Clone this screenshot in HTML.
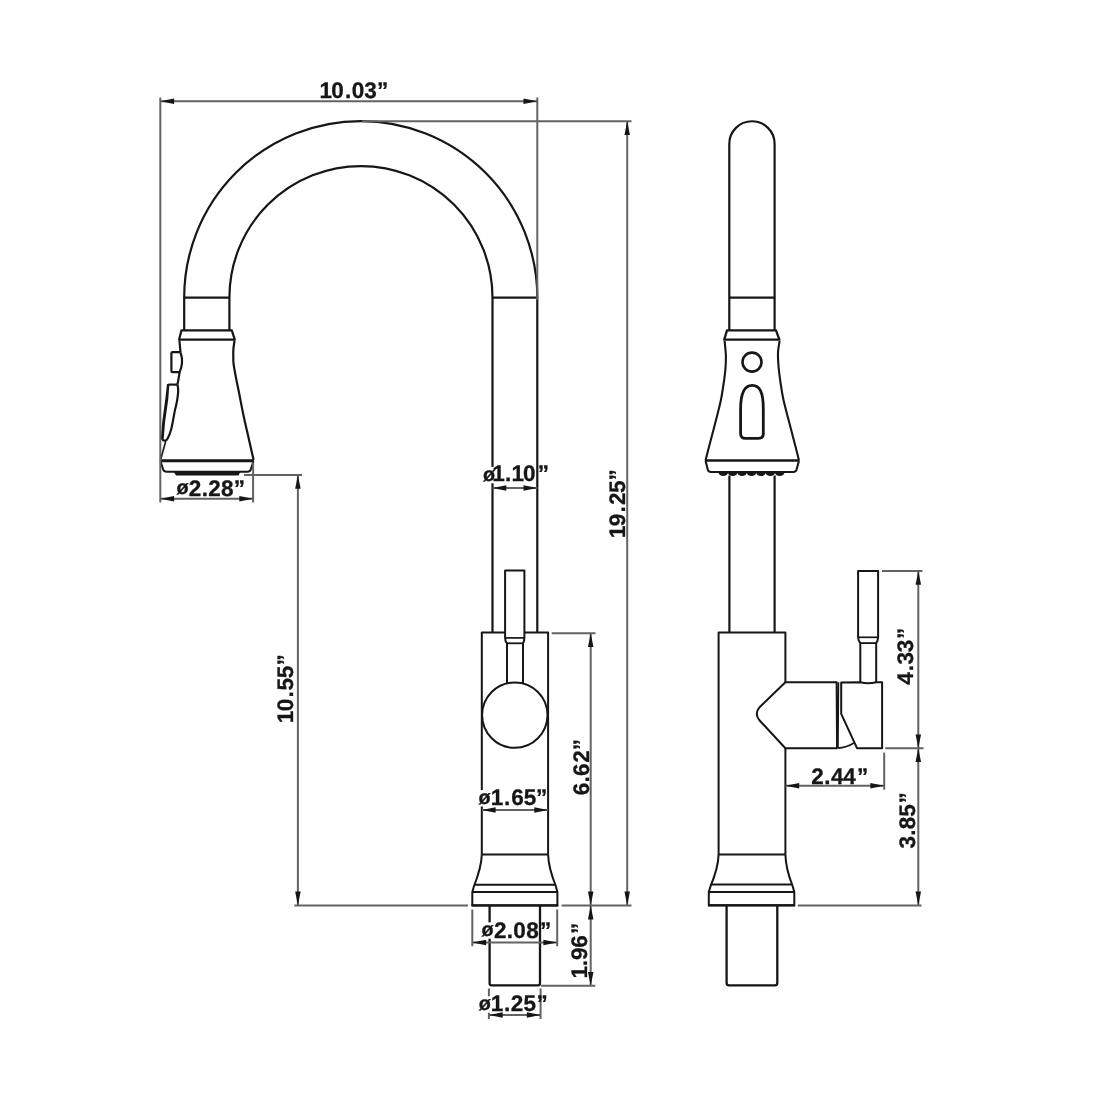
<!DOCTYPE html>
<html lang="en">
<head>
<meta charset="utf-8">
<title>Faucet dimensions</title>
<style>
html,body{margin:0;padding:0;background:#fff;}
body{width:1096px;height:1096px;overflow:hidden;}
svg{display:block;will-change:transform;}
svg path,svg line,svg circle{fill:none;stroke:#161616;stroke-linecap:butt;stroke-linejoin:round;}
svg polygon,svg path.k{fill:#161616;stroke:none;}
svg text{font-family:"Liberation Sans",sans-serif;font-weight:700;font-size:22.5px;fill:#161616;stroke:#161616;stroke-width:0.3px;stroke-linejoin:round;text-rendering:geometricPrecision;}
svg line.d{stroke:#636363;stroke-width:2.0px;}
svg .w{fill:#fff;}
svg rect.bg{fill:#fff;stroke:none;}
</style>
</head>
<body>
<svg width="1096" height="1096" viewBox="0 0 1096 1096">
<rect x="0" y="0" width="1096" height="1096" fill="#ffffff"/>
<path d="M184.2 330 L184.2 297.6 A176.55 176.55 0 0 1 537.3 297.6 L537.3 632.5" stroke-width="2.2" fill="none" />
<path d="M229.4 330 L229.4 297.6 A131.55 131.55 0 0 1 492.5 297.6 L492.5 632.5" stroke-width="2.2" fill="none" />
<line x1="184.2" y1="297.6" x2="229.4" y2="297.6" stroke-width="2.2"/>
<line x1="492.5" y1="297.6" x2="537.3" y2="297.6" stroke-width="2.2"/>
<path d="M181.5 330.3 L231.8 330.3 L234.8 339.6 L179.1 339.6 Z" stroke-width="2.2" fill="none" />
<path d="M234.60 340.30 C234.40 341.75 233.62 346.22 233.40 349.00 C233.18 351.78 233.27 354.50 233.30 357.00 C233.33 359.50 233.13 360.43 233.60 364.00 C234.07 367.57 235.18 373.57 236.10 378.40 C237.02 383.23 237.88 386.92 239.10 393.00 C240.32 399.08 241.75 407.12 243.40 414.90 C245.05 422.68 247.30 432.18 249.00 439.70 C250.70 447.22 252.83 456.62 253.60 460.00" stroke-width="2.2" fill="none" />
<path d="M179.4 340.3 L180.5 352" stroke-width="2.2" fill="none" />
<path d="M180.3 352.2 L172.6 352.2 Q171.4 352.2 171.4 353.4 L171.4 371 Q171.4 372.2 172.6 372.2 L179.6 372.2" stroke-width="2.2" fill="none" />
<path d="M180.40 352.20 C180.62 353.00 181.43 355.37 181.70 357.00 C181.97 358.63 182.08 360.25 182.00 362.00 C181.92 363.75 181.60 365.77 181.20 367.50 C180.80 369.23 180.03 370.57 179.60 372.40 C179.17 374.23 178.97 376.47 178.60 378.50 C178.23 380.53 177.60 383.58 177.40 384.60" stroke-width="2.2" fill="none" />
<path d="M177.4 384.6 L168.3 384.6" stroke-width="2.2" fill="none" />
<path d="M177.50 384.60 C177.62 385.70 178.32 388.28 178.20 391.20 C178.08 394.12 177.37 398.82 176.80 402.10 C176.23 405.38 175.73 406.38 174.80 410.90 C173.87 415.42 172.42 424.57 171.20 429.20 C169.98 433.83 168.57 436.80 167.50 438.70 C166.43 440.60 165.68 440.42 164.80 440.60 C163.92 440.78 162.63 439.93 162.20 439.80" stroke-width="2.2" fill="none" />
<polygon points="167.00,384.00 169.40,384.00 168.30,399.00 165.10,422.00 163.60,439.80 160.80,439.80 162.20,422.00 165.30,399.00"/>
<path d="M165.7 441.3 L160.7 459.5" stroke-width="1.6" fill="none" />
<line x1="159.9" y1="460.8" x2="253.9" y2="460.8" stroke-width="3.0"/>
<path d="M160.6 461.5 L163.2 469.6 Q164 471.7 166.5 471.7 L247.5 471.7 Q250 471.7 250.7 469.6 L253.4 461.5" stroke-width="2.0" fill="none" />
<path class="k" d="M173.8 472 L240.2 472 L238.6 475.6 L176 475.6 Z"/>
<path d="M481.8 854.4 L481.8 632.6 L548.1 632.6 L548.1 854.4" stroke-width="2.0" fill="none" />
<path d="M505.1 637.9 L505.1 570.5 L524.4 570.5 L524.4 637.9 Q524.3 641.5 523 643.3 L523 684 L507 684 L507 643.3 Q505.2 641.5 505.1 637.9 Z" stroke-width="2.0" fill="#fff" class="w"/>
<line x1="505.1" y1="637.9" x2="524.4" y2="637.9" stroke-width="1.7"/>
<line x1="507" y1="643.3" x2="523" y2="643.3" stroke-width="1.8"/>
<circle class="w" cx="514.8" cy="715.1" r="32.7" stroke-width="2.0"/>
<line x1="481.8" y1="854.4" x2="548.1" y2="854.4" stroke-width="2.0"/>
<path d="M481.8 854.4 C481.5 866 478 876 474 886 L472.3 892 L472.3 905.4 L557.4 905.4 L557.4 892 L555.8 886 C551.8 876 548.4 866 548.1 854.4" stroke-width="2.0" fill="none" />
<line x1="474.2" y1="884.7" x2="555.6" y2="884.7" stroke-width="2.0"/>
<line x1="472.3" y1="892" x2="557.4" y2="892" stroke-width="2.2"/>
<line x1="471.5" y1="905.4" x2="558.2" y2="905.4" stroke-width="2.2"/>
<path d="M489.6 905.4 L489.6 983.3 Q489.6 985.4 491.7 985.4 L537.9 985.4 Q540 985.4 540 983.3 L540 905.4" stroke-width="2.3" fill="none" />
<path d="M729.3 330 L729.3 143.9 A22.65 22.65 0 0 1 774.6 143.9 L774.6 330" stroke-width="2.2" fill="none" />
<line x1="729.3" y1="297.6" x2="774.6" y2="297.6" stroke-width="2.2"/>
<path d="M727.0 330.3 L776.0 330.3 L779.4 339.7 L724.2 339.7 Z" stroke-width="2.3" fill="none" />
<path d="M724.60 340.80 C724.82 343.35 725.77 351.35 725.90 356.10 C726.03 360.85 725.77 364.82 725.40 369.30 C725.03 373.78 724.45 377.88 723.70 383.00 C722.95 388.12 722.18 393.83 720.90 400.00 C719.62 406.17 717.68 413.33 716.00 420.00 C714.32 426.67 712.53 433.35 710.80 440.00 C709.07 446.65 706.47 456.58 705.60 459.90" stroke-width="2.1" fill="none" />
<path d="M779.60 340.80 C779.33 342.80 778.18 348.60 778.00 352.80 C777.82 357.00 778.05 360.80 778.50 366.00 C778.95 371.20 779.87 378.33 780.70 384.00 C781.53 389.67 782.18 394.00 783.50 400.00 C784.82 406.00 786.88 413.33 788.60 420.00 C790.32 426.67 792.08 433.35 793.80 440.00 C795.52 446.65 798.05 456.58 798.90 459.90" stroke-width="2.1" fill="none" />
<line x1="704.9" y1="460.5" x2="799.5" y2="460.5" stroke-width="2.5"/>
<path d="M705.6 461 L707.8 469.8 Q708.4 472 711 472 L793.3 472 Q795.8 472 796.5 469.8 L798.9 461" stroke-width="2.1" fill="none" />
<path class="k" d="M718.6 472.4 A4.7 3.7 0 0 0 728.00 472.4 A4.7 3.7 0 0 0 737.40 472.4 A4.7 3.7 0 0 0 746.80 472.4 A4.7 3.7 0 0 0 756.20 472.4 A4.7 3.7 0 0 0 765.60 472.4 A4.7 3.7 0 0 0 775.00 472.4 A4.7 3.7 0 0 0 784.40 472.4 Z"/>
<circle cx="752" cy="362.1" r="9.5" stroke-width="2.6"/>
<path d="M740.6 409 C740.6 392 744.5 385.4 752.2 385.4 C759.8 385.4 763.3 392 763.3 409 L763.3 433.5 Q763.3 438.4 758.4 438.4 L745.5 438.4 Q740.6 438.4 740.6 433.5 Z" stroke-width="2.8" fill="none" />
<line x1="729.4" y1="475.5" x2="729.4" y2="632.5" stroke-width="2.2"/>
<line x1="774.6" y1="475.5" x2="774.6" y2="632.5" stroke-width="2.2"/>
<path d="M785.4 682.5 L785.4 632.5 L718.6 632.5 L718.6 854.4" stroke-width="2.0" fill="none" />
<line x1="785.4" y1="748" x2="785.4" y2="854.4" stroke-width="2.0"/>
<line x1="718.6" y1="854.4" x2="785.4" y2="854.4" stroke-width="2.0"/>
<path d="M837.4 682.2 L785.4 682.2 L759.6 707.2 Q754.2 713.6 759.2 720 L785.4 748.2 L837.4 748.2" stroke-width="2.0" fill="none" />
<path d="M836.5 682.2 L836.9 748 M838.4 682.2 L837.9 748" stroke-width="1.7" fill="none" />
<path d="M841.2 713.8 L841.2 682.6 L860.3 682.2 Q868 684.2 876.2 682.2 L882.1 682.2 L882.1 748.2 L857 748.2 Z" stroke-width="2.0" fill="none" />
<path d="M837.6 748.2 Q847 747.4 853.8 743" stroke-width="1.7" fill="none" />
<path d="M858.1 637.3 L858.1 570.9 L878.1 570.9 L878.1 637.3 Q878 641 876.2 643.1 L876.2 682 M858.1 637.3 Q858.3 641 860.3 643.1 L860.3 682" stroke-width="2.0" fill="none" />
<line x1="858.1" y1="637.3" x2="878.1" y2="637.3" stroke-width="1.7"/>
<line x1="860.3" y1="643.1" x2="876.2" y2="643.1" stroke-width="1.8"/>
<path d="M718.6 854.4 C718.3 866 714.8 876 710.6 886 L708.8 892 L708.8 905.3 L794.3 905.3 L794.3 892 L792.6 886 C788.6 876 785.7 866 785.4 854.4" stroke-width="2.0" fill="none" />
<line x1="710.8" y1="884.6" x2="792.4" y2="884.6" stroke-width="2.0"/>
<line x1="708.8" y1="892" x2="794.3" y2="892" stroke-width="2.2"/>
<line x1="708" y1="905.3" x2="795.1" y2="905.3" stroke-width="2.2"/>
<path d="M726.6 905.3 L726.6 983.1 Q726.6 985.3 728.8 985.3 L775.1 985.3 Q777.3 985.3 777.3 983.1 L777.3 905.3" stroke-width="2.3" fill="none" />
<line class="d" x1="160.3" y1="97.5" x2="160.3" y2="502.5"/>
<line class="d" x1="537.3" y1="97.5" x2="537.3" y2="300"/>
<line class="d" x1="160.3" y1="101.2" x2="537.3" y2="101.2"/>
<polygon points="160.30,101.20 174.10,98.45 174.10,103.95"/>
<polygon points="537.30,101.20 523.50,98.45 523.50,103.95"/>
<line class="d" x1="362" y1="121.2" x2="631.5" y2="121.2"/>
<line class="d" x1="627.2" y1="121.2" x2="627.2" y2="905.4"/>
<polygon points="627.20,121.20 624.45,135.00 629.95,135.00"/>
<polygon points="627.20,905.40 624.45,891.60 629.95,891.60"/>
<line class="d" x1="253.1" y1="462.5" x2="253.1" y2="502.5"/>
<line class="d" x1="160.3" y1="498.8" x2="253.1" y2="498.8"/>
<polygon points="160.30,498.80 174.10,496.05 174.10,501.55"/>
<polygon points="253.10,498.80 239.30,496.05 239.30,501.55"/>
<line class="d" x1="244" y1="475.0" x2="302" y2="475.0"/>
<line class="d" x1="297.9" y1="475.0" x2="297.9" y2="905.4"/>
<polygon points="297.90,475.00 295.15,488.80 300.65,488.80"/>
<polygon points="297.90,905.40 295.15,891.60 300.65,891.60"/>
<line class="d" x1="294.3" y1="905.6" x2="468" y2="905.6"/>
<line class="d" x1="492.5" y1="487.9" x2="537.3" y2="487.9"/>
<polygon points="492.50,487.90 506.30,485.15 506.30,490.65"/>
<polygon points="537.30,487.90 523.50,485.15 523.50,490.65"/>
<line class="d" x1="551.7" y1="633.3" x2="595.5" y2="633.3"/>
<line class="d" x1="590.7" y1="633.3" x2="590.7" y2="985.7"/>
<polygon points="590.70,633.30 587.95,647.10 593.45,647.10"/>
<polygon points="590.70,905.40 587.95,891.60 593.45,891.60"/>
<line class="d" x1="481.8" y1="810" x2="548.1" y2="810"/>
<polygon points="481.80,810.00 495.60,807.25 495.60,812.75"/>
<polygon points="548.10,810.00 534.30,807.25 534.30,812.75"/>
<line class="d" x1="561.6" y1="905.6" x2="631.5" y2="905.6"/>
<polygon points="590.70,905.60 587.95,919.40 593.45,919.40"/>
<polygon points="590.70,985.70 587.95,971.90 593.45,971.90"/>
<line class="d" x1="541" y1="985.7" x2="595.3" y2="985.7"/>
<line class="d" x1="472.3" y1="909.5" x2="472.3" y2="946.2"/>
<line class="d" x1="557.2" y1="909.5" x2="557.2" y2="946.2"/>
<line class="d" x1="472.3" y1="942.4" x2="557.2" y2="942.4"/>
<polygon points="472.30,942.40 486.10,939.65 486.10,945.15"/>
<polygon points="557.20,942.40 543.40,939.65 543.40,945.15"/>
<line class="d" x1="488.9" y1="988.5" x2="488.9" y2="1019"/>
<line class="d" x1="540.6" y1="988.5" x2="540.6" y2="1019"/>
<line class="d" x1="488.9" y1="1015" x2="540.6" y2="1015"/>
<polygon points="488.90,1015.00 502.70,1012.25 502.70,1017.75"/>
<polygon points="540.60,1015.00 526.80,1012.25 526.80,1017.75"/>
<line class="d" x1="882" y1="570.9" x2="922.5" y2="570.9"/>
<line class="d" x1="918.3" y1="570.9" x2="918.3" y2="905.4"/>
<polygon points="918.30,570.90 915.55,584.70 921.05,584.70"/>
<polygon points="918.30,748.20 915.55,734.40 921.05,734.40"/>
<line class="d" x1="885.2" y1="748.3" x2="923.5" y2="748.3"/>
<polygon points="918.30,748.30 915.55,762.10 921.05,762.10"/>
<polygon points="918.30,905.40 915.55,891.60 921.05,891.60"/>
<line class="d" x1="797.8" y1="905.5" x2="921.5" y2="905.5"/>
<line class="d" x1="884.2" y1="752.6" x2="884.2" y2="789.7"/>
<line class="d" x1="785.4" y1="785.8" x2="884.2" y2="785.8"/>
<polygon points="785.40,785.80 799.20,783.05 799.20,788.55"/>
<polygon points="884.20,785.80 870.40,783.05 870.40,788.55"/>
<text x="319.45 331.13 344.98 351.66 364.34 376.88" y="97.50 97.50 97.50 97.50 97.50 97.50">10.03”</text>
<text x="176.57 188.70 201.78 208.27 220.98 233.76" y="493.51 496.20 496.20 496.20 496.20 496.20"><tspan font-size="19.8">ø</tspan>2.28”</text>
<rect class="bg" x="482.33" y="466.90" width="13.2" height="16.4"/>
<text x="482.92 492.22 504.97 511.38 523.06 537.83" y="480.61 480.80 480.80 480.80 480.80 480.80"><tspan font-size="19.8">ø</tspan>1.10”</text>
<rect class="bg" x="478.00" y="790.07" width="13.2" height="16.4"/>
<text x="478.59 490.85 504.02 511.19 523.66 535.98" y="803.78 804.75 804.75 804.75 804.75 804.75"><tspan font-size="19.8">ø</tspan>1.65”</text>
<rect class="bg" x="480.94" y="922.35" width="13.2" height="16.4"/>
<text x="481.53 493.93 506.78 513.23 526.23 539.88" y="936.06 937.95 937.95 937.95 937.95 937.95"><tspan font-size="19.8">ø</tspan>2.08”</text>
<rect class="bg" x="478.20" y="996.26" width="13.2" height="16.4"/>
<text x="478.79 490.85 504.03 510.80 523.51 536.48" y="1009.97 1010.95 1010.95 1010.95 1010.95 1010.95"><tspan font-size="19.8">ø</tspan>1.25”</text>
<text x="811.34 824.28 831.06 843.37 857.08" y="783.85 783.85 783.85 783.85 783.85">2.44”</text>
<text x="-538.15 -526.19 -512.59 -505.00 -492.95 -480.42" y="0.00 0.00 0.00 0.00 0.00 0.00" transform="translate(624.77 0) rotate(-90)">19.25”</text>
<text x="-723.15 -711.20 -697.59 -690.54 -678.19 -665.42" y="0.00 0.00 0.00 0.00 0.00 0.00" transform="translate(293.40 0) rotate(-90)">10.55”</text>
<text x="-795.31 -782.59 -775.96 -762.86 -750.22" y="0.00 0.00 0.00 0.00 0.00" transform="translate(589.30 0) rotate(-90)">6.62”</text>
<text x="-978.61 -966.26 -960.06 -947.76 -933.90" y="0.00 0.00 0.00 0.00 0.00" transform="translate(587.00 0) rotate(-90)">1.96”</text>
<text x="-684.80 -671.22 -664.47 -652.15 -639.07" y="0.00 0.00 0.00 0.00 0.00" transform="translate(912.95 0) rotate(-90)">4.33”</text>
<text x="-848.61 -835.78 -829.17 -816.87 -803.62" y="0.00 0.00 0.00 0.00 0.00" transform="translate(915.20 0) rotate(-90)">3.85”</text>
</svg>
</body>
</html>
